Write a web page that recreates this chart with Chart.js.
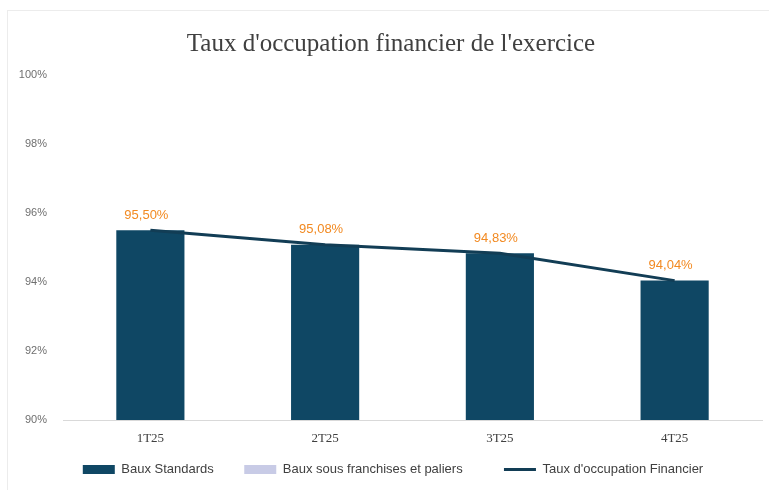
<!DOCTYPE html>
<html>
<head>
<meta charset="utf-8">
<script src="https://cdn.jsdelivr.net/npm/chart.js@4"></script>
<style>
  html, body { margin: 0; padding: 0; background: #fff; }
  #wrap { width: 769px; height: 490px; position: relative; }
  #frame { position: absolute; left: 7px; top: 10px; width: 770px; height: 490px; border-left: 1px solid #ececec; border-top: 1px solid #ececec; }
  canvas { position: absolute; left: 0; top: 0; }
</style>
</head>
<body>
<div id="wrap"><div id="frame"></div><canvas id="chart-occupation"></canvas></div>
<script>
// Chart data
const LABELS = ["1T25", "2T25", "3T25", "4T25"];
const BAUX_STANDARDS = [95.50, 95.08, 94.83, 94.04];
const BAUX_FRANCHISES = [0, 0, 0, 0];
const TAUX_OCCUPATION = [95.50, 95.08, 94.83, 94.04];
const Y_MIN = 90;
const Y_MAX = 100;
const Y_STEP = 2;

const NAVY = "#0f4764";
const LINE_NAVY = "#123d55";
const LAVENDER = "#c8cbe6";
const ORANGE = "#f28a22";

const fmtPct = (v) => v.toFixed(2).replace(".", ",") + "%";

// Orange value labels above the points of the line
const valueLabels = {
	id: "valueLabels",
	afterDatasetsDraw(chart) {
		const { ctx } = chart;
		const meta = chart.getDatasetMeta(2);
		ctx.save();
		ctx.font = "13px 'Liberation Sans', Arial, sans-serif";
		ctx.fillStyle = ORANGE;
		ctx.textAlign = "center";
		ctx.textBaseline = "middle";
		meta.data.forEach((pt, i) => {
			ctx.fillText(fmtPct(TAUX_OCCUPATION[i]), pt.x - 4, pt.y - 15);
		});
		ctx.restore();
	},
};

// Title and legend sit a little right of the canvas centre in the original
const nudgeBlocks = {
	id: "nudgeBlocks",
	afterLayout(chart) {
		if (chart.titleBlock) {
			chart.titleBlock.left += 6;
			chart.titleBlock.right += 6;
		}
		if (chart.legend) {
			chart.legend.left += 8;
			chart.legend.right += 8;
		}
	},
};

// extra spaces after each legend text, to widen the gaps between items
const LEGEND_GAPS = ["    ", "       ", ""];

const CHART_CONFIG = {
	data: {
		labels: LABELS,
		datasets: [
			{
				type: "bar",
				label: "Baux Standards",
				data: BAUX_STANDARDS,
				backgroundColor: NAVY,
				pointStyle: "rect",
				barPercentage: 0.39,
				categoryPercentage: 1,
				order: 2,
			},
			{
				type: "bar",
				label: "Baux sous franchises et paliers",
				data: BAUX_FRANCHISES,
				backgroundColor: LAVENDER,
				pointStyle: "rect",
				barPercentage: 0.39,
				categoryPercentage: 1,
				order: 2,
			},
			{
				type: "line",
				label: "Taux d'occupation Financier",
				data: TAUX_OCCUPATION,
				borderColor: LINE_NAVY,
				backgroundColor: LINE_NAVY,
				borderWidth: 3,
				tension: 0,
				pointRadius: 0,
				pointStyle: "line",
				order: 1,
			},
		],
	},
	options: {
		responsive: false,
		animation: false,
		layout: {
			padding: { top: 29, left: 8, right: 7, bottom: 4 },
		},
		scales: {
			x: {
				stacked: true,
				grid: { display: false },
				border: { display: true, color: "#d9d9d9", width: 1 },
				ticks: {
					color: "#404040",
					font: { family: "'Liberation Serif', 'Times New Roman', serif", size: 13 },
					padding: 3,
				},
				afterFit: (scale) => { scale.height = 27; },
			},
			y: {
				stacked: true,
				min: Y_MIN,
				max: Y_MAX,
				grid: { display: false },
				border: { display: false },
				ticks: {
					stepSize: Y_STEP,
					color: "#6f6f6f",
					font: { family: "'Liberation Sans', Arial, sans-serif", size: 11 },
					padding: 8,
					callback: (v) => v + "%",
				},
				afterFit: (scale) => { scale.width = 55; },
			},
		},
		plugins: {
			title: {
				display: true,
				text: "Taux d'occupation financier de l'exercice",
				color: "#404040",
				font: { family: "'Liberation Serif', 'Times New Roman', serif", size: 25, weight: "normal" },
				padding: { top: 0, bottom: 16 },
			},
			legend: {
				position: "bottom",
				labels: {
					usePointStyle: true,
					pointStyleWidth: 32,
					boxHeight: 9,
					padding: 16,
					color: "#404040",
					font: { family: "'Liberation Sans', Arial, sans-serif", size: 13 },
					sort: (a, b) => a.datasetIndex - b.datasetIndex,
					generateLabels: (chart) => {
						const items = Chart.defaults.plugins.legend.labels.generateLabels(chart);
						items.forEach((it) => {
							it.text = it.text + LEGEND_GAPS[it.datasetIndex];
						});
						return items;
					},
				},
			},
			tooltip: { enabled: false },
		},
	},
	plugins: [valueLabels, nudgeBlocks],
};

const CHART_WRAPPER = document.getElementById("chart-occupation");
CHART_WRAPPER.width = 769;
CHART_WRAPPER.height = 490;
let occupationChart;
if (CHART_WRAPPER) {
	occupationChart = new Chart(CHART_WRAPPER, CHART_CONFIG);
}
</script>
</body>
</html>
